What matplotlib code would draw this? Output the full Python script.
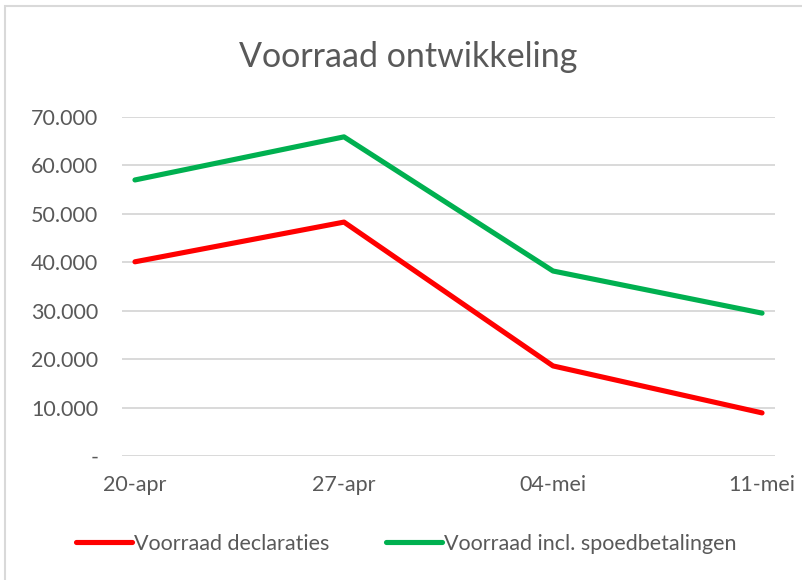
import matplotlib.pyplot as plt
from matplotlib.patches import Rectangle
from matplotlib.ticker import FuncFormatter

plt.rcParams["font.family"] = ["Lato", "DejaVu Sans"]

weeks = ["20-apr", "27-apr", "04-mei", "11-mei"]
declaraties = [40100, 48300, 18600, 8900]
incl_spoed = [57000, 65900, 38200, 29500]
yticks = [0, 10000, 20000, 30000, 40000, 50000, 60000, 70000]

grey = "#595959"

fig = plt.figure(figsize=(8.02, 5.8), dpi=100)
# chart border
fig.patches.append(Rectangle((5 / 802, -0.01), 1.0, 1 - 6 / 580 + 0.01,
                             transform=fig.transFigure, fill=False,
                             edgecolor="#d9d9d9", lw=1.5))

ax = fig.add_axes([122 / 802, 1 - 456 / 580, 653 / 802, 339 / 580])
x = range(len(weeks))
ax.plot(x, declaraties, color="#ff0000", lw=3.7, solid_capstyle="round",
        label="Voorraad declaraties", zorder=3)
ax.plot(x, incl_spoed, color="#00b050", lw=3.7, solid_capstyle="round",
        label="Voorraad incl. spoedbetalingen", zorder=3)

ax.set_xlim(-0.062, 3.062)
ax.set_ylim(0, 70000)
ax.set_xticks(list(x))
ax.set_xticklabels(weeks)
ax.set_yticks(yticks)
ax.yaxis.set_major_formatter(FuncFormatter(
    lambda v, p: "-" if v == 0 else "{:,.0f}".format(v).replace(",", ".")))
ax.tick_params(length=0, colors=grey, labelsize=15.5)
ax.tick_params(axis="y", pad=17)
ax.tick_params(axis="x", pad=14)
ax.grid(axis="y", color="#d9d9d9", lw=1.4)
ax.set_axisbelow(True)
for s in ax.spines.values():
    s.set_visible(False)

fig.text(408 / 802, 1 - 57 / 580, "Voorraad ontwikkeling", ha="center",
         va="center", fontsize=24.5, color=grey)

leg = fig.legend(loc="center left", bbox_to_anchor=(57 / 802, 1 - 544 / 580),
                 ncol=2, frameon=False, handlelength=2.6, handletextpad=0.1,
                 columnspacing=2.6, fontsize=15.5)
for t in leg.get_texts():
    t.set_color(grey)

fig.savefig("out.png", dpi=100)
